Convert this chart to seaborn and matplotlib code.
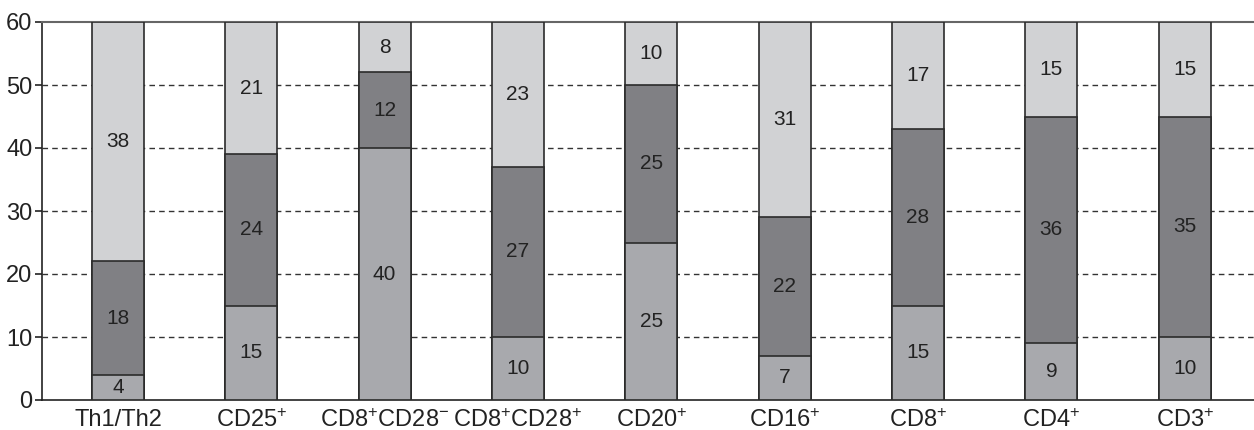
import pandas as pd
import numpy as np
import matplotlib
matplotlib.use('Agg')
import matplotlib.pyplot as plt
import seaborn as sns

categories = ['Th1/Th2', 'CD25$^{+}$', 'CD8$^{+}$CD28$^{-}$', 'CD8$^{+}$CD28$^{+}$',
              'CD20$^{+}$', 'CD16$^{+}$', 'CD8$^{+}$', 'CD4$^{+}$', 'CD3$^{+}$']
bottom_vals = [4, 15, 40, 10, 25, 7, 15, 9, 10]
middle_vals = [18, 24, 12, 27, 25, 22, 28, 36, 35]
top_vals = [38, 21, 8, 23, 10, 31, 17, 15, 15]

sns.set_style('white')
plt.rcParams['font.family'] = ['Liberation Sans', 'DejaVu Sans']
plt.rcParams['mathtext.fontset'] = 'custom'
plt.rcParams['mathtext.rm'] = 'Liberation Sans'
plt.rcParams['mathtext.it'] = 'Liberation Sans'
plt.rcParams['mathtext.default'] = 'regular'

df = pd.DataFrame({'cat': categories, 'b': bottom_vals, 'm': middle_vals, 't': top_vals})
df['bm'] = df['b'] + df['m']
df['total'] = df['bm'] + df['t']

fig = plt.figure(figsize=(12.54, 4.30), dpi=100)
ax = fig.add_axes([42 / 1254, 30 / 430, 1 - 42 / 1254, 378 / 430])

edge = '#2b2b2b'
w = 0.39
# draw cumulative layers, largest first
sns.barplot(data=df, x='cat', y='total', color='#d1d2d4', width=w, saturation=1,
            edgecolor=edge, linewidth=1.2, ax=ax, zorder=3)
sns.barplot(data=df, x='cat', y='bm', color='#808084', width=w, saturation=1,
            edgecolor=edge, linewidth=1.2, ax=ax, zorder=3)
sns.barplot(data=df, x='cat', y='b', color='#a8a9ad', width=w, saturation=1,
            edgecolor=edge, linewidth=1.2, ax=ax, zorder=3)

# segment labels
lab = dict(ha='center', va='center', fontsize=15, color='#222222', zorder=4)
for i, row in df.iterrows():
    ax.text(i, row['b'] / 2, str(row['b']), **lab)
    ax.text(i, row['b'] + row['m'] / 2, str(row['m']), **lab)
    ax.text(i, row['bm'] + row['t'] / 2, str(row['t']), **lab)

ax.set_ylim(0, 60)
ax.set_xlim(-0.57, 8.52)
ax.set_yticks(range(0, 61, 10))
for y in range(10, 60, 10):
    ax.axhline(y, color='#333333', linestyle=(0, (4, 3)), linewidth=1.0, zorder=1)

ax.set_xlabel('')
ax.set_ylabel('')
ax.tick_params(axis='y', left=True, length=5, width=1.2, labelsize=17, pad=2, colors='#222222')
ax.tick_params(axis='x', bottom=False, labelsize=17, pad=3, colors='#222222')

ax.spines['right'].set_visible(False)
ax.spines['top'].set_color('#666666')
ax.spines['top'].set_linewidth(1.5)
ax.spines['left'].set_color('#222222')
ax.spines['bottom'].set_color('#222222')
ax.spines['left'].set_linewidth(1.2)
ax.spines['bottom'].set_linewidth(1.2)

plt.savefig('out.png', dpi=100)
